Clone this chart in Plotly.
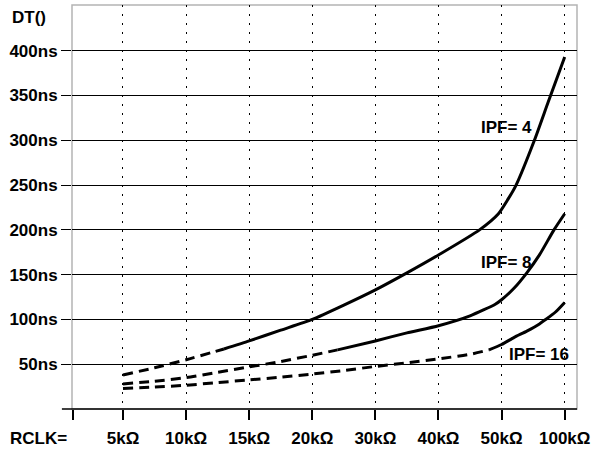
import plotly.graph_objects as go

# category axis
x_labels = ["5kΩ", "10kΩ", "15kΩ", "20kΩ", "30kΩ", "40kΩ", "50kΩ", "100kΩ"]
x_pos = list(range(len(x_labels)))

y_ticks = [50, 100, 150, 200, 250, 300, 350, 400]
y_tick_labels = ["50ns", "100ns", "150ns", "200ns", "250ns", "300ns", "350ns", "400ns"]

# IPF=4 curve (x = position on category axis, value in ns)
ipf4_x = [0, 0.5, 1.0, 1.6, 2.0, 2.5, 3.0, 3.5, 4.0, 4.5, 5.0, 5.65, 5.95, 6.1, 6.23, 6.52, 6.74, 7.0]
ipf4_y = [38, 46, 55, 67, 76, 88, 100, 116, 133, 152, 172, 200, 218, 234, 250, 300, 343, 393]
ipf4_split = 1.6

# IPF=8 curve
ipf8_x = [0, 0.5, 1.0, 1.5, 2.0, 2.5, 3.0, 3.4, 4.0, 4.5, 5.0, 5.5, 5.9, 6.0, 6.2, 6.4, 6.6, 6.83, 7.0]
ipf8_y = [28, 31, 35, 41, 47, 53, 60, 66, 76, 85, 93, 104, 117, 122, 135, 152, 172, 200, 218]
ipf8_split = 3.4

# IPF=16 curve
ipf16_x = [0, 0.5, 1.0, 1.5, 2.0, 2.5, 3.0, 3.5, 4.0, 4.5, 5.0, 5.5, 5.8, 6.0, 6.2, 6.4, 6.6, 6.7, 6.85, 7.0]
ipf16_y = [23, 24.5, 26.5, 29.5, 32.5, 35.5, 39, 43, 47.5, 51.5, 56, 61, 66, 72, 80, 87, 95, 100, 108, 119]
ipf16_split = 5.8

curves = [
    ("IPF= 4", ipf4_x, ipf4_y, ipf4_split),
    ("IPF= 8", ipf8_x, ipf8_y, ipf8_split),
    ("IPF= 16", ipf16_x, ipf16_y, ipf16_split),
]

label_text = ["IPF= 4", "IPF= 8", "IPF= 16"]
label_x = [6.07, 6.07, 6.6]
label_y = [314, 163, 61]

FONT = dict(family="Liberation Sans, Arial, sans-serif", size=17, color="black", weight="bold")

fig = go.Figure()
for name, xs, ys, split in curves:
    dx = [x for x in xs if x <= split]
    dy = [y for x, y in zip(xs, ys) if x <= split]
    sx = [x for x in xs if x >= split]
    sy = [y for x, y in zip(xs, ys) if x >= split]
    fig.add_trace(go.Scatter(x=dx, y=dy, mode="lines", name=name + " dashed",
                             line=dict(color="black", width=3, dash="10px,6px", shape="spline", smoothing=0.6),
                             showlegend=False, hoverinfo="skip"))
    fig.add_trace(go.Scatter(x=sx, y=sy, mode="lines", name=name,
                             line=dict(color="black", width=3, shape="spline", smoothing=0.6),
                             showlegend=False, hoverinfo="skip"))

for t, lx, ly in zip(label_text, label_x, label_y):
    fig.add_annotation(x=lx, y=ly, xref="x", yref="y", text=t, showarrow=False,
                       font=FONT, xanchor="center", yanchor="middle")

fig.add_annotation(x=-0.123, y=0.968, xref="paper", yref="paper", text="DT()", showarrow=False,
                   font=FONT, xanchor="left", yanchor="middle")
fig.add_annotation(x=-0.127, y=-0.072, xref="paper", yref="paper", text="RCLK=", showarrow=False,
                   font=FONT, xanchor="left", yanchor="middle")

# plot frame (gray)
fig.add_shape(type="rect", xref="paper", yref="paper", x0=0, y0=0, x1=1, y1=1,
              line=dict(color="#b4b4b4", width=1.5), layer="below")
# black baseline extending left of the frame
fig.add_shape(type="line", xref="paper", yref="paper", x0=-0.02, y0=0, x1=1, y1=0,
              line=dict(color="black", width=1.5), layer="above")

fig.update_layout(
    width=610, height=453,
    margin=dict(l=72, r=33, t=5, b=44),
    paper_bgcolor="white", plot_bgcolor="white",
    showlegend=False,
    font=FONT,
)
fig.update_xaxes(
    range=[-0.808, 7.195],
    tickmode="array",
    tickvals=[-0.8] + x_pos,
    ticktext=[""] + x_labels,
    ticks="outside", ticklen=10, tickwidth=1.5, tickcolor="black",
    showgrid=True, gridcolor="black", gridwidth=1, griddash="2px,7px",
    zeroline=False, showline=False,
    tickfont=FONT,
    ticklabelstandoff=4,
)
fig.update_yaxes(
    range=[0, 451],
    tickmode="array",
    tickvals=y_ticks,
    ticktext=y_tick_labels,
    ticks="outside", ticklen=10, tickwidth=1, tickcolor="black",
    showgrid=True, gridcolor="black", gridwidth=1,
    zeroline=False, showline=False,
    tickfont=FONT,
)

fig.write_html("out.html", config={"displayModeBar": False},
               post_script="document.body.style.margin='0';")
